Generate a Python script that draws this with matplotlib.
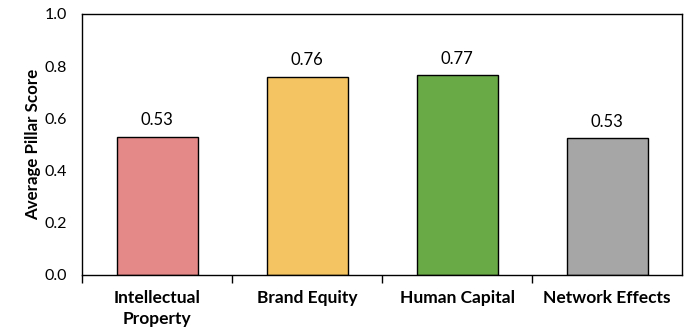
import matplotlib.pyplot as plt
import numpy as np

plt.rcParams['font.family'] = ['Lato', 'DejaVu Sans']

# average pillar scores per category
categories = ['Intellectual\nProperty', 'Brand Equity', 'Human Capital', 'Network Effects']
scores = [0.53, 0.76, 0.765, 0.525]
colors = ['#E48888', '#F4C462', '#6AAA46', '#A6A6A6']

fig = plt.figure(figsize=(6.88, 3.33), dpi=100)
ax = fig.add_axes([0.1192, 0.1742, 0.8721, 0.7838])

x = np.arange(len(categories))
bars = ax.bar(x, scores, width=0.54, color=colors, edgecolor='black', linewidth=1.0)

for b, v in zip(bars, scores):
    ax.annotate(f'{v:.2f}', (b.get_x() + b.get_width() / 2, v),
                xytext=(0, 6), textcoords='offset points',
                ha='center', va='bottom', fontsize=12)

ax.set_xlim(-0.5, len(categories) - 0.5)
ax.set_ylim(0, 1.0)
ax.set_yticks(np.arange(0, 1.01, 0.2))
ax.set_yticklabels([f'{t:.1f}' for t in np.arange(0, 1.01, 0.2)], fontsize=11.5)
ax.tick_params(axis='y', length=0, pad=11)

# category boundaries get the tick marks, names sit between them
ax.set_xticks(np.arange(-0.5, len(categories) - 0.5, 1.0))
ax.set_xticklabels([])
ax.set_xticks(x, minor=True)
ax.set_xticklabels(categories, minor=True, fontsize=12.5, fontweight='bold',
                   linespacing=1.35)
ax.tick_params(axis='x', which='major', length=5.5, width=1.0, direction='out')
ax.tick_params(axis='x', which='minor', length=0, pad=11)

for s in ax.spines.values():
    s.set_color('black')
    s.set_linewidth(1.0)

ax.set_ylabel('Average Pillar Score', fontsize=12.2, fontweight='bold', labelpad=2)

fig.savefig('out.png', dpi=100)
